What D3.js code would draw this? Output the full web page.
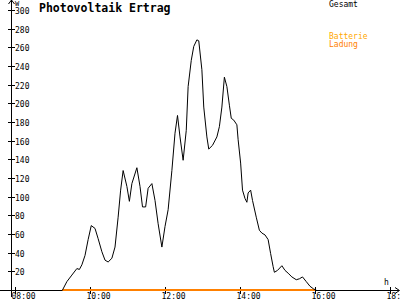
<!DOCTYPE html>
<html><head><meta charset="utf-8">
<script src="https://cdn.jsdelivr.net/npm/d3@7"></script>
<style>
html,body{margin:0;padding:0;background:#fff;}
svg{display:block;}
text{font-family:"DejaVu Sans Mono",monospace;}
</style></head>
<body><svg id="c" width="400" height="300"></svg>
<script>
const title = "Photovoltaik Ertrag";
const yTicks = [20,40,60,80,100,120,140,160,180,200,220,240,260,280,300];
const xTickLabels = ["08:00","10:00","12:00","14:00","16:00","18:"];
const xTickHours = [8,10,12,14,16,18];
const legendLabels = ["Gesamt","Batterie","Ladung"];
const gesamtTimes = ["09:16","09:23","09:31","09:39","09:43","09:47","09:52","09:57","10:02","10:08","10:13","10:19","10:24","10:29","10:35","10:40","10:45","10:49","10:53","10:59","11:03","11:07","11:15","11:20","11:24","11:29","11:33","11:39","11:44","11:49","11:55","12:00","12:05","12:11","12:16","12:20","12:24","12:29","12:34","12:37","12:42","12:46","12:51","12:54","12:59","13:02","13:07","13:10","13:16","13:23","13:27","13:31","13:35","13:39","13:43","13:46","13:50","13:55","13:57","14:01","14:04","14:08","14:11","14:13","14:17","14:20","14:26","14:31","14:35","14:40","14:45","14:49","14:53","14:55","15:00","15:07","15:12","15:17","15:23","15:30","15:35","15:40","15:46","15:52","15:58","16:02"];
const gesamtValues = [0,9,16,23,22,27,37,54,69,66,55,41,32,30,34,46,78,107,128,111,95,114,131,111,89,89,109,114,96,71,46,68,86,128,168,187,164,139,171,218,246,261,268,267,236,196,164,151,155,164,175,196,228,218,198,184,182,177,161,136,107,98,94,104,107,96,78,64,61,59,54,39,25,19,21,26,21,18,14,11,12,14,9,4,1,0];
const ladungTimes = ["09:16","16:00"];
const ladungValues = [0,0];

const svg = d3.select("#c");
const toH = s => { const [h,m] = s.split(":").map(Number); return h + m/60; };
const x = d3.scaleLinear().domain([8,18]).range([15,390]);
const y = d3.scaleLinear().domain([0,300]).range([290,10]);
const axisX = 11;

const g = svg.append("g").attr("shape-rendering","crispEdges");
// x axis
g.append("line").attr("x1",0).attr("x2",399).attr("y1",290.5).attr("y2",290.5).attr("stroke","#000");
svg.append("path").attr("d","M395,287.5 L399.5,290.5 L395,293.5").attr("fill","none").attr("stroke","#000");
// y axis
g.append("line").attr("x1",axisX+0.5).attr("x2",axisX+0.5).attr("y1",0).attr("y2",297).attr("stroke","#000");
svg.append("path").attr("d",`M${axisX-2.5},4 L${axisX+0.5},0 L${axisX+3.5},4`).attr("fill","none").attr("stroke","#000");

yTicks.forEach(v=>{
  const yy = Math.round(y(v))+0.5;
  g.append("line").attr("x1",8).attr("x2",15).attr("y1",yy).attr("y2",yy).attr("stroke","#000");
  svg.append("text").attr("x",15).attr("y",yy+3).attr("font-size",8).attr("fill","#000").text(v);
});
xTickHours.forEach((h,i)=>{
  const xx = Math.round(x(h))+0.5;
  g.append("line").attr("x1",xx).attr("x2",xx).attr("y1",287).attr("y2",294).attr("stroke","#000");
  svg.append("text").attr("x",xx-4).attr("y",299).attr("font-size",8).attr("fill","#000").text(xTickLabels[i]);
});
svg.append("text").attr("x",15).attr("y",5.5).attr("font-size",7).text("W");
svg.append("text").attr("x",384).attr("y",285).attr("font-size",8).text("h");

// title
svg.append("text").attr("x",39).attr("y",12).attr("font-size",11.5).attr("font-weight","bold").text(title);

// legend
const legColors = ["#000","#ffa800","#ff8000"];
const legY = [7,39,47];
legendLabels.forEach((l,i)=>{
  svg.append("text").attr("x",329).attr("y",legY[i]).attr("font-size",8).attr("fill",legColors[i]).text(l);
});

const line = d3.line().x(d=>x(toH(d[0]))).y(d=>y(d[1]));
svg.append("path").datum(ladungTimes.map((t,i)=>[t,ladungValues[i]]))
  .attr("d",line).attr("fill","none").attr("stroke","#ff8000").attr("stroke-width",2);
svg.append("path").datum(gesamtTimes.map((t,i)=>[t,gesamtValues[i]]))
  .attr("d",line).attr("fill","none").attr("stroke","#000").attr("stroke-width",1);
</script></body></html>
